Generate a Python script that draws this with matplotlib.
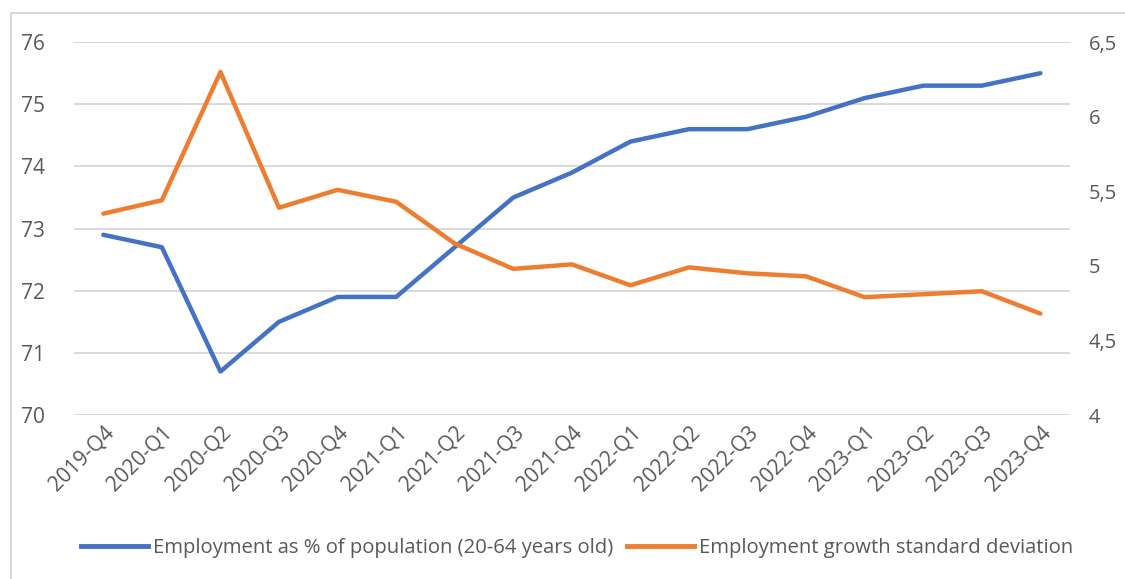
import matplotlib.pyplot as plt
from matplotlib.lines import Line2D

quarters = ['2019-Q4', '2020-Q1', '2020-Q2', '2020-Q3', '2020-Q4', '2021-Q1',
            '2021-Q2', '2021-Q3', '2021-Q4', '2022-Q1', '2022-Q2', '2022-Q3',
            '2022-Q4', '2023-Q1', '2023-Q2', '2023-Q3', '2023-Q4']
employment_rate = [72.9, 72.7, 70.7, 71.5, 71.9, 71.9, 72.7, 73.5, 73.9,
                   74.4, 74.6, 74.6, 74.8, 75.1, 75.3, 75.3, 75.5]
growth_std = [5.35, 5.44, 6.30, 5.39, 5.51, 5.43, 5.15, 4.98, 5.01,
              4.87, 4.99, 4.95, 4.93, 4.79, 4.81, 4.83, 4.68]
left_ticks = [70, 71, 72, 73, 74, 75, 76]
right_ticks = [4, 4.5, 5, 5.5, 6, 6.5]

BLUE = '#4472C4'
ORANGE = '#ED7D31'
TEXT = '#595959'
GRID = '#D9D9D9'

plt.rcParams['font.family'] = ['Open Sans', 'DejaVu Sans']

fig = plt.figure(figsize=(11.25, 5.79), dpi=100)
ax = fig.add_axes([0.0658, 0.2832, 0.885, 0.644])
ax2 = ax.twinx()

x = list(range(len(quarters)))
ax.plot(x, employment_rate, color=BLUE, lw=3.2, solid_capstyle='round',
        solid_joinstyle='round', zorder=3)
ax2.plot(x, growth_std, color=ORANGE, lw=3.2, solid_capstyle='round',
         solid_joinstyle='round', zorder=3)

ax.set_xlim(-0.5, len(quarters) - 0.5)
ax.set_ylim(70, 76)
ax2.set_ylim(4, 6.5)
ax.set_yticks(left_ticks)
ax.set_yticklabels([str(t) for t in left_ticks])
ax2.set_yticks(right_ticks)
ax2.set_yticklabels([('%g' % t).replace('.', ',') for t in right_ticks])

ax.set_xticks(x)
ax.set_xticklabels(quarters, rotation=45, ha='right', rotation_mode='anchor')

ax.grid(axis='y', color=GRID, lw=1.4)
ax.set_axisbelow(True)
for a in (ax, ax2):
    for s in a.spines.values():
        s.set_visible(False)
    a.tick_params(length=0, colors=TEXT, labelsize=15)
ax.tick_params(axis='y', pad=21)
ax2.tick_params(axis='y', pad=14, labelsize=14.5)
ax.tick_params(axis='x', pad=5)

handles = [Line2D([], [], color=BLUE, lw=3.5),
           Line2D([], [], color=ORANGE, lw=3.5)]
labels = ['Employment as % of population (20-64 years old)',
          'Employment growth standard deviation']
fig.legend(handles, labels, loc='center', bbox_to_anchor=(0.513, 0.053),
           ncol=2, frameon=False, fontsize=14.6, labelcolor=TEXT,
           handlelength=3.3, handletextpad=0.25, columnspacing=0.7)

# chart frame (left and top edges)
fig.add_artist(Line2D([11 / 1125, 11 / 1125], [0, 1 - 13 / 579],
                      color=GRID, lw=1.5, transform=fig.transFigure))
fig.add_artist(Line2D([11 / 1125, 1], [1 - 13 / 579, 1 - 13 / 579],
                      color=GRID, lw=1.5, transform=fig.transFigure))

fig.savefig('out.png', dpi=100)
